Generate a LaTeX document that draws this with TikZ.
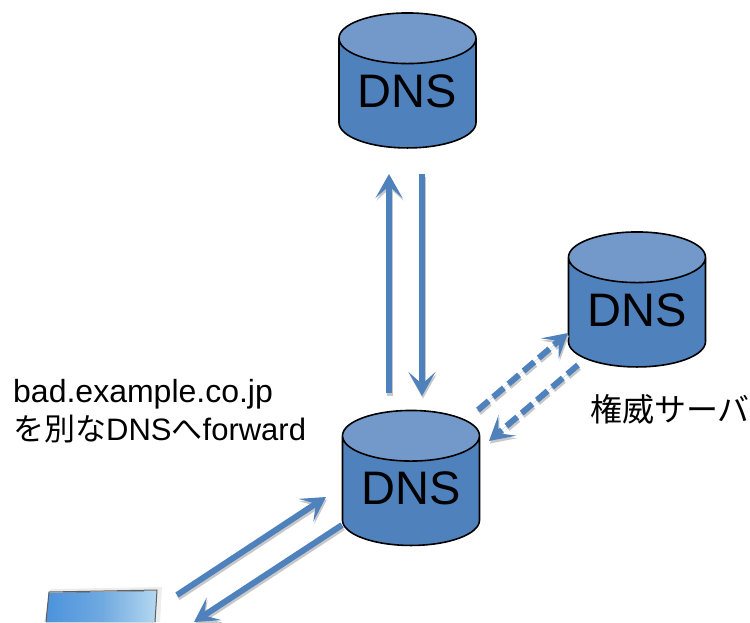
\documentclass[tikz,border=0pt]{standalone}
\usepackage{fontspec}
\setmainfont{Liberation Sans}
\newfontfamily\cjkfont{Noto Sans CJK JP}
\usetikzlibrary{shapes.geometric,arrows.meta,calc}
\definecolor{dnsbody}{HTML}{4F81BD}
\definecolor{dnstop}{HTML}{7299C9}
\definecolor{arrowblue}{HTML}{4F81BD}
\definecolor{shadowgray}{HTML}{C8C8C8}
\definecolor{screenL}{HTML}{4C93DC}
\definecolor{screenM}{HTML}{6FA9E0}
\definecolor{screenR}{HTML}{B4D8F0}
\tikzset{
  dnsdb/.style={cylinder, shape border rotate=90, draw=black, line width=1.6pt,
    cylinder uses custom fill, cylinder body fill=dnsbody, cylinder end fill=dnstop,
    minimum width=137pt, minimum height=135pt, aspect=0.51, inner sep=0pt,
    font=\fontsize{47}{47}\selectfont},
  headtip/.style={-{Stealth[length=24pt,width=27pt,inset=12pt]}},
  link/.style={draw=arrowblue, fill=arrowblue, line width=6pt, line cap=butt, headtip},
  linkshade/.style={draw=shadowgray, fill=shadowgray, line width=6pt, line cap=butt, headtip},
  dashlink/.style={link, dash pattern=on 14pt off 6pt},
  dashshade/.style={linkshade, dash pattern=on 14pt off 6pt},
  label/.style={font=\fontsize{32}{38}\selectfont, align=left, inner sep=0pt},
}
\newcommand{\shadowlink}[3]{\draw[#1] ($(#2)+(1,2.5)$) -- ($(#3)+(1,2.5)$);}
\begin{document}
\begin{tikzpicture}[x=1pt,y=-1pt]
\useasboundingbox (0,0) rectangle (750,622);
\clip (0,0) rectangle (750,622);
\node[dnsdb] (top) at (407.5,93.5) {\raisebox{4pt}{DNS}};
\node[dnsdb] (mid) at (411,491) {\raisebox{5pt}{DNS}};
\node[dnsdb] (auth) at (637,312.5) {\raisebox{4pt}{DNS}};
\coordinate (upS) at (389,393);
\coordinate (upE) at (389,174);
\coordinate (dnS) at (422,174);
\coordinate (dnE) at (422,396);
\coordinate (aS) at (478,410);
\coordinate (aE) at (568,333);
\coordinate (bS) at (578,365);
\coordinate (bE) at (489,441);
\coordinate (cS) at (177,595);
\coordinate (cE) at (326,497);
\coordinate (dS) at (342,525);
\coordinate (dE) at (194,622);
\shadowlink{linkshade}{upS}{upE}
\shadowlink{linkshade}{dnS}{dnE}
\shadowlink{dashshade}{aS}{aE}
\shadowlink{dashshade}{bS}{bE}
\shadowlink{linkshade}{cS}{cE}
\shadowlink{linkshade}{dS}{dE}
\draw[link] (upS) -- (upE);
\draw[link] (dnS) -- (dnE);
\draw[dashlink] (aS) -- (aE);
\draw[dashlink] (bS) -- (bE);
\draw[link] (cS) -- (cE);
\draw[link] (dS) -- (dE);
\node[label,anchor=north west] (note) at (13,379) {bad.example.co.jp\\{\fontsize{31}{38}\selectfont\cjkfont を別な}{\fontsize{31}{38}\selectfont DNS}{\fontsize{31}{38}\selectfont\cjkfont へ}{\fontsize{31}{38}\selectfont forward}};
\node[label,anchor=north west] (auth label) at (590,394) {\cjkfont 権威サーバ};
% laptop
\fill[gray!14] (50,589) -- (162,587) -- (160,622) -- (44,622) -- cycle;
\fill[left color=screenL, right color=screenR, middle color=screenM] (49,593) -- (157,591) -- (155,622) -- (46,622) -- cycle;
\draw[gray!75!black, line width=1pt] (46,622) -- (49,592) -- (157,590) -- (155,622);
\end{tikzpicture}
\end{document}
